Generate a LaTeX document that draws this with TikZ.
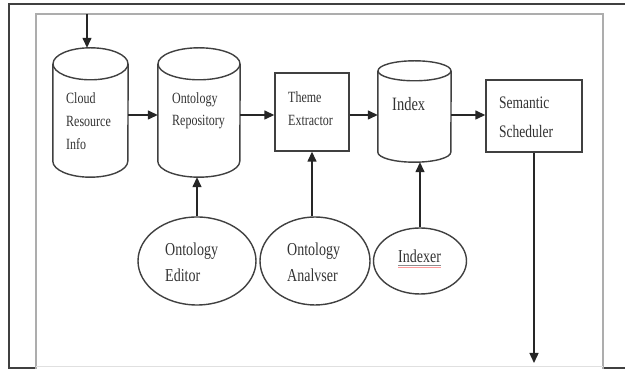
\documentclass[tikz,border=0pt]{standalone}
\usepackage{fontspec}
\setmainfont{Liberation Serif}
\usetikzlibrary{arrows.meta,shapes.geometric}
\newcommand\drawcyl[3]{%
  \draw[shp] ([yshift=-#3]#1.north west) -- ([yshift=#3]#1.south west)
    arc[start angle=180,end angle=360,x radius=#2,y radius=#3]
    -- ([yshift=-#3]#1.north east);
  \draw[shp] ([yshift=-#3]#1.north) ellipse[x radius=#2, y radius=#3];
}
\newcommand\tl[1]{\scalebox{1}[1.3]{#1}}
\begin{document}
\begin{tikzpicture}[x=1pt,y=1pt,
  shp/.style={draw=black!75, line width=1.4pt},
  arr/.style={draw=black!85, line width=1.4pt, -{Triangle[length=10pt,width=9pt]}},
  lbl/.style={anchor=north west, inner sep=0pt, align=left, text=black!80},
  holder/.style={rectangle, inner sep=0pt, draw=none},
  boxnode/.style={rectangle, shp, inner sep=0pt},
  ellnode/.style={ellipse, shp, inner sep=0pt},
]
\useasboundingbox (0,0) rectangle (625,369);
\fill[white] (0,0) rectangle (625,369);

% frames
\draw[black!75, line width=2pt] (9,0) -- (9,365) -- (625,365);
\draw[black!75, line width=2pt] (8,1.2) -- (36,1.2);
\draw[black!75, line width=2pt] (604,1.2) -- (625,1.2);
\draw[black!32, line width=2pt] (36,0) -- (36,355) -- (603,355) -- (603,0);
\draw[black!12, line width=1pt] (36,2.5) -- (603,2.5);

% cylinders
\node[holder, minimum width=75, minimum height=129] (c1) at (90.5,256.5) {};
\drawcyl{c1}{37.5}{16}
\node[holder, minimum width=82, minimum height=129] (c2) at (199,256.5) {};
\drawcyl{c2}{41}{16}
\node[holder, minimum width=73, minimum height=101] (c3) at (414.5,257.5) {};
\drawcyl{c3}{36.5}{10}

% boxes
\node[boxnode, minimum width=74, minimum height=78] (t1) at (312,257) {};
\node[boxnode, minimum width=96, minimum height=72] (s1) at (534,253) {};

% ellipses
\node[ellnode, minimum width=118, minimum height=88] (e1) at (197,108) {};
\node[ellnode, minimum width=110, minimum height=88] (a1) at (315,108) {};
\node[ellnode, minimum width=93, minimum height=66] (i1) at (420,108) {};

% labels
\node[lbl, font=\fontsize{12}{23}\selectfont] (c1t) at (66,277) {\tl{Cloud}\\\tl{Resource}\\\tl{Info}};
\node[lbl, font=\fontsize{12}{22}\selectfont] (c2t) at (172,277) {\tl{Ontology}\\\tl{Repository}};
\node[lbl, font=\fontsize{12}{23}\selectfont] (t1t) at (288,278) {\tl{Theme}\\\tl{Extractor}};
\node[lbl, font=\fontsize{14.5}{27}\selectfont] (c3t) at (392,272) {\tl{Index}};
\node[lbl, font=\fontsize{13.5}{29}\selectfont] (s1t) at (499,272) {\tl{Semantic}\\\tl{Scheduler}};
\node[lbl, font=\fontsize{14}{26}\selectfont] (e1t) at (165,126) {\tl{Ontology}\\\tl{Editor}};
\node[lbl, font=\fontsize{14}{26}\selectfont] (a1t) at (287,126) {\tl{Ontology}\\\tl{Analvser}};
\node[lbl, font=\fontsize{14}{26}\selectfont] (i1t) at (398,119) {\tl{Indexer}};
\draw[black!45, line width=0.5pt] ([yshift=-2]i1t.south west) -- ([yshift=-2]i1t.south east);
\draw[red!40, line width=0.6pt] ([yshift=-4]i1t.south west) -- ([yshift=-4]i1t.south east);

% connectors
\coordinate (row) at (0,254);
\coordinate (in) at (87,355);
\coordinate (out) at (534,6);
\draw[arr] (in) -- (in |- c1.north);
\draw[arr] (c1.east |- row) -- (c2.west |- row);
\draw[arr] (c2.east |- row) -- (t1.west |- row);
\draw[arr] (t1.east |- row) -- (c3.west |- row);
\draw[arr] (c3.east |- row) -- (s1.west |- row);
\draw[arr] (e1.north) -- (e1.north |- c2.south);
\draw[arr] (t1.south |- a1.north) -- (t1.south);
\draw[arr] (i1.north) -- (i1.north |- c3.south);
\draw[arr] (s1.south) -- (out);
\end{tikzpicture}
\end{document}
